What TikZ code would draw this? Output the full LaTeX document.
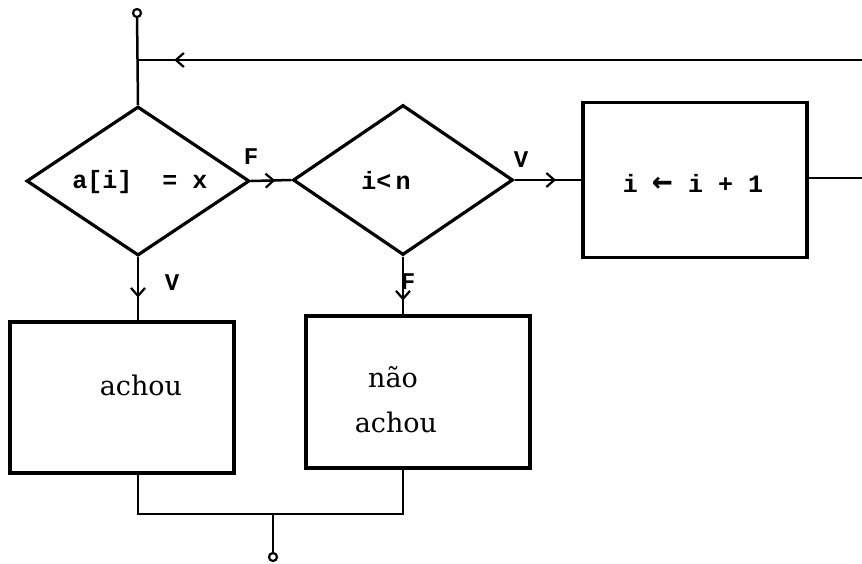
\documentclass[tikz,border=0pt]{standalone}
\usepackage{fontspec}
\setmonofont{Liberation Mono}
\newfontfamily\serifb{DejaVu Serif}
\newfontfamily\dvm{DejaVu Sans Mono}
\usetikzlibrary{shapes.geometric,arrows.meta,decorations.markings}
\tikzset{
  dec/.style={draw, shape=diamond, line width=3.2pt, inner sep=0pt, minimum width=#1},
  proc/.style={draw, rectangle, line width=3.2pt, inner sep=0pt, minimum width=224pt},
  conn/.style={line width=2.5pt},
  arr/.style={postaction={decorate,decoration={markings,mark=at position #1 with {\arrow{Straight Barb[length=8pt,width=14pt,line width=2.2pt]}}}}},
  code/.style={font=\ttfamily\bfseries\fontsize{25}{28}\selectfont, inner sep=0pt},
  lab/.style={font=\ttfamily\bfseries\fontsize{24}{26}\selectfont, inner sep=0pt},
  word/.style={font=\serifb\fontsize{27}{30}\selectfont, inner sep=0pt},
  term/.style={draw, circle, line width=2.2pt, minimum size=8pt, inner sep=0pt}
}
\begin{document}
\begin{tikzpicture}[x=1pt,y=-1pt]
\useasboundingbox (0,0) rectangle (862,563);
% shapes
\node[term] (sc) at (137,13) {};
\node[dec=223pt, minimum height=149pt] (d1) at (138,181) {};
\node[dec=220pt, minimum height=150pt] (d2) at (403,180) {};
\node[proc, minimum height=155pt] (b3) at (695,180) {};
\node[proc, minimum height=151pt] (b1) at (122,397.5) {};
\node[proc, minimum height=152pt] (b2) at (418,392) {};
\node[term] (ec) at (273,557) {};
% texts
\node[code] (t1) at (140,182) {a[i]\ \ = x};
\node[code] (t2) at (386,180) {i<\,n};
\node[code] (t3) at (693,183) {i {\dvm\bfseries\fontsize{34}{34}\selectfont ←} i + 1};
\node[word] (t4) at (141,385) {achou};
\node[word] (t5) at (393,377) {não};
\node[word] (t6) at (396,422) {achou};
% labels
\node[lab] (lf1) at (251,157) {F};
\node[lab] (lv2) at (521,160) {V};
\node[lab] (lv1) at (172,283) {V};
\node[lab] (lf2) at (408,282) {F};
% coordinates
\coordinate (j) at (138,60);
\coordinate (rt) at (862,60);
\coordinate (re) at (862,178);
\coordinate (m) at (273,514);
% connectors
\draw[conn] (sc) -- (d1.north);
\draw[conn, arr=0.95] (rt) -- (j);
\draw[conn, arr=0.6] (d1.east) -- (d2.west);
\draw[conn, arr=0.62] (d2.east) -- (b3.west);
\draw[conn] (b3.east |- re) -- (re);
\draw[conn, arr=0.64] (d1.south) -- (d1.south |- b1.north);
\draw[conn, arr=0.76] (d2.south) -- (d2.south |- b2.north);
\draw[conn] (d1.south |- b1.south) |- (m) -| (d2.south |- b2.south);
\draw[conn] (m) -- (ec);
\end{tikzpicture}
\end{document}
